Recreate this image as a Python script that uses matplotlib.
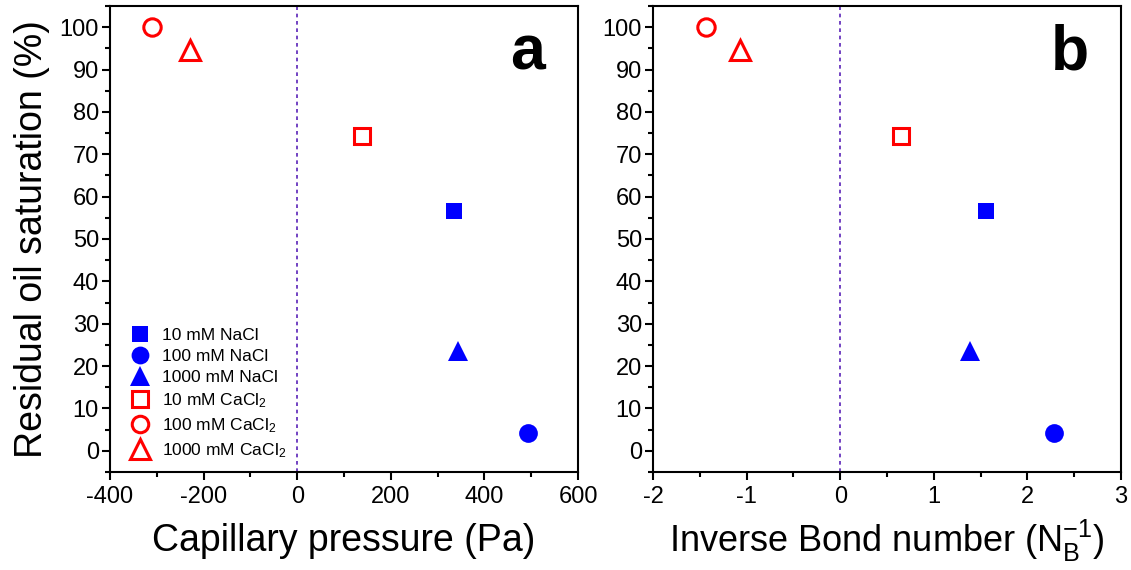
"""Residual oil saturation vs capillary pressure / inverse Bond number (panels a, b)."""
import matplotlib
matplotlib.use('Agg')
import matplotlib.pyplot as plt
from matplotlib.ticker import MultipleLocator

plt.rcParams['font.family'] = ['Liberation Sans', 'DejaVu Sans']
plt.rcParams['mathtext.fontset'] = 'custom'
plt.rcParams['mathtext.rm'] = 'Liberation Sans'
plt.rcParams['mathtext.it'] = 'Liberation Sans:italic'
plt.rcParams['mathtext.bf'] = 'Liberation Sans:bold'
plt.rcParams['axes.unicode_minus'] = False

# Data
labels = ['10 mM NaCl', '100 mM NaCl', '1000 mM NaCl',
          '10 mM CaCl$_2$', '100 mM CaCl$_2$', '1000 mM CaCl$_2$']
cap_pressure = [334, 494, 343, 138, -311, -230]          # Pa
inv_bond = [1.56, 2.28, 1.39, 0.645, -1.43, -1.075]      # N_B^-1
residual_oil = [56.6, 4.2, 23.6, 74.2, 100.0, 94.5]      # %

markers = ['s', 'o', '^', 's', 'o', '^']
colors = ['#0000ff', '#0000ff', '#0000ff', '#ff0000', '#ff0000', '#ff0000']
filled = [True, True, True, False, False, False]
msizes = [12, 13.5, 15, 11.5, 12.5, 14.5]

fig = plt.figure(figsize=(11.31, 5.70), dpi=100)
ax1 = fig.add_axes([0.0973, 0.172, 0.4138, 0.8175])
ax2 = fig.add_axes([0.5774, 0.172, 0.4138, 0.8175])


def draw(ax, xs):
    for x, y, m, c, f, ms, lab in zip(xs, residual_oil, markers, colors, filled, msizes, labels):
        ax.plot([x], [y], linestyle='none', marker=m, markersize=ms,
                markerfacecolor=c if f else 'white', markeredgecolor=c,
                markeredgewidth=0 if f else 2.2, label=lab)
    ax.axvline(0, color='#5a22b8', linestyle=(0, (2.2, 2.2)), linewidth=1.2, zorder=0)
    ax.set_ylim(-5, 105)
    ax.yaxis.set_minor_locator(MultipleLocator(5))
    ax.set_yticks(range(0, 101, 10))
    for s in ax.spines.values():
        s.set_linewidth(1.5)
    ax.tick_params(which='major', direction='out', length=6, width=1.5,
                   labelsize=17, top=False, right=False)
    ax.tick_params(which='minor', direction='out', length=3.6, width=1.5,
                   top=False, right=False)
    ax.tick_params(axis='x', which='major', pad=4)
    ax.tick_params(axis='y', which='major', pad=2)
    ax.set_ylabel('Residual oil saturation (%)', fontsize=27, labelpad=7)


draw(ax1, cap_pressure)
ax1.set_xlim(-400, 600)
ax1.xaxis.set_major_locator(MultipleLocator(200))
ax1.xaxis.set_minor_locator(MultipleLocator(100))
ax1.set_xlabel('Capillary pressure (Pa)', fontsize=27, labelpad=11)
ax1.text(0.891, 0.90, 'a', transform=ax1.transAxes, fontsize=45,
         fontweight='bold', ha='center', va='center')

draw(ax2, inv_bond)
ax2.set_xlim(-2, 3)
ax2.xaxis.set_major_locator(MultipleLocator(1))
ax2.xaxis.set_minor_locator(MultipleLocator(0.5))
ax2.set_xlabel('Inverse Bond number (N$_\\mathrm{B}^{-1}$)', fontsize=26, labelpad=7)
ax2.set_ylabel('')
ax2.text(0.891, 0.90, 'b', transform=ax2.transAxes, fontsize=45,
         fontweight='bold', ha='center', va='center')

ax1.legend(loc='lower left', bbox_to_anchor=(0.0, 0.0), frameon=False,
           fontsize=12.5, handletextpad=0.3, labelspacing=0.35,
           borderaxespad=0.3, markerscale=0.95)

fig.savefig('out.png', dpi=100)
